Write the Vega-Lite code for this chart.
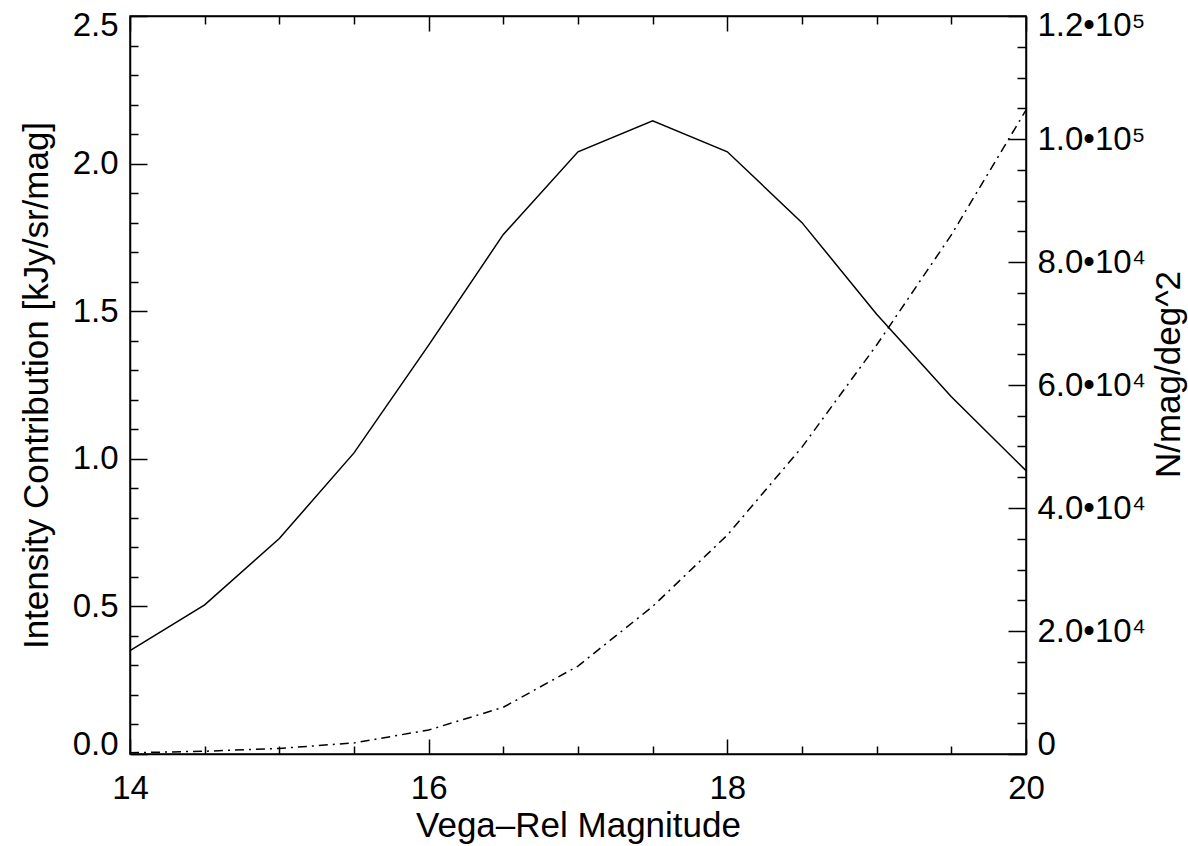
{
  "$schema": "https://vega.github.io/schema/vega-lite/v6.json",
  "width": 896,
  "height": 738,
  "autosize": {"type": "none"},
  "padding": {"left": 130, "top": 16, "right": 162, "bottom": 92},
  "background": "white",
  "config": {
    "view": {"stroke": "black", "strokeWidth": 1.5},
    "axis": {
      "grid": false,
      "domainColor": "black",
      "domainWidth": 1.5,
      "tickColor": "black",
      "tickWidth": 1.5,
      "labelFont": "Liberation Sans",
      "labelFontSize": 33,
      "labelColor": "black",
      "titleFont": "Liberation Sans",
      "titleFontSize": 35,
      "titleFontWeight": "normal",
      "titleColor": "black",
      "labelOverlap": false
    }
  },
  "data": {
    "values": [
      {"mag": 14.0, "intensity": 0.35, "counts": 200},
      {"mag": 14.5, "intensity": 0.505, "counts": 450},
      {"mag": 15.0, "intensity": 0.73, "counts": 900},
      {"mag": 15.5, "intensity": 1.02, "counts": 1800},
      {"mag": 16.0, "intensity": 1.385, "counts": 3900},
      {"mag": 16.5, "intensity": 1.76, "counts": 7600},
      {"mag": 17.0, "intensity": 2.04, "counts": 14300},
      {"mag": 17.5, "intensity": 2.145, "counts": 24000},
      {"mag": 18.0, "intensity": 2.04, "counts": 35600},
      {"mag": 18.5, "intensity": 1.8, "counts": 49900},
      {"mag": 19.0, "intensity": 1.49, "counts": 66500},
      {"mag": 19.5, "intensity": 1.21, "counts": 84400},
      {"mag": 20.0, "intensity": 0.96, "counts": 104700}
    ]
  },
  "layer": [
    {
      "mark": {"type": "line", "color": "black", "strokeWidth": 1.5},
      "encoding": {
        "x": {
          "field": "mag", "type": "quantitative",
          "scale": {"domain": [14, 20], "nice": false, "zero": false},
          "axis": {
            "orient": "bottom",
            "title": "Vega–Rel Magnitude",
            "values": [14, 14.5, 15, 15.5, 16, 16.5, 17, 17.5, 18, 18.5, 19, 19.5, 20],
            "tickSize": -15,
            "tickDash": {"condition": {"test": "datum.value % 2 == 0", "value": [100, 1]}, "value": [8, 100]},
            "labelExpr": "datum.value % 2 == 0 ? format(datum.value, 'd') : ''",
            "labelFlush": false,
            "labelPadding": 33,
            "titlePadding": 3
          }
        },
        "y": {
          "field": "intensity", "type": "quantitative",
          "scale": {"domain": [0, 2.5], "nice": false},
          "axis": {
            "orient": "left",
            "title": "Intensity Contribution [kJy/sr/mag]",
            "values": [0, 0.1, 0.2, 0.3, 0.4, 0.5, 0.6, 0.7, 0.8, 0.9, 1.0, 1.1, 1.2, 1.3, 1.4, 1.5, 1.6, 1.7, 1.8, 1.9, 2.0, 2.1, 2.2, 2.3, 2.4, 2.5],
            "tickSize": -17,
            "tickDash": {"condition": {"test": "abs(datum.value * 2 - round(datum.value * 2)) < 0.001", "value": [100, 1]}, "value": [8, 100]},
            "labelExpr": "abs(datum.value * 2 - round(datum.value * 2)) < 0.001 ? format(datum.value, '.1f') : ''",
            "labelPadding": 29,
            "labelFlush": true,
            "labelFlushOffset": 7,
            "titlePadding": 18
          }
        }
      }
    },
    {
      "mark": {"type": "line", "color": "black", "strokeWidth": 1.5, "strokeDash": [9, 5, 2, 5]},
      "encoding": {
        "x": {
          "field": "mag", "type": "quantitative",
          "scale": {"domain": [14, 20], "nice": false, "zero": false},
          "axis": {
            "orient": "top",
            "title": null,
            "labels": false,
            "values": [14, 14.5, 15, 15.5, 16, 16.5, 17, 17.5, 18, 18.5, 19, 19.5, 20],
            "tickSize": -15,
            "tickDash": {"condition": {"test": "datum.value % 2 == 0", "value": [100, 1]}, "value": [8, 100]}
          }
        },
        "y": {
          "field": "counts", "type": "quantitative",
          "scale": {"domain": [0, 120000], "nice": false},
          "axis": {
            "orient": "right",
            "title": "N/mag/deg^2",
            "titleAngle": -90,
            "titleY": 358,
            "values": [0, 5000, 10000, 15000, 20000, 25000, 30000, 35000, 40000, 45000, 50000, 55000, 60000, 65000, 70000, 75000, 80000, 85000, 90000, 95000, 100000, 105000, 110000, 115000, 120000],
            "tickSize": -18,
            "tickDash": {"condition": {"test": "datum.value % 20000 == 0", "value": [100, 1]}, "value": [9, 100]},
            "labelExpr": "datum.value % 20000 != 0 ? '' : datum.value == 0 ? '0' : datum.value >= 100000 ? format(datum.value / 100000, '.1f') + '•10⁵' : format(datum.value / 10000, '.1f') + '•10⁴'",
            "labelPadding": 29,
            "labelFlush": true,
            "labelFlushOffset": 7,
            "titlePadding": 41
          }
        }
      }
    }
  ],
  "resolve": {"scale": {"x": "independent", "y": "independent"}}
}
